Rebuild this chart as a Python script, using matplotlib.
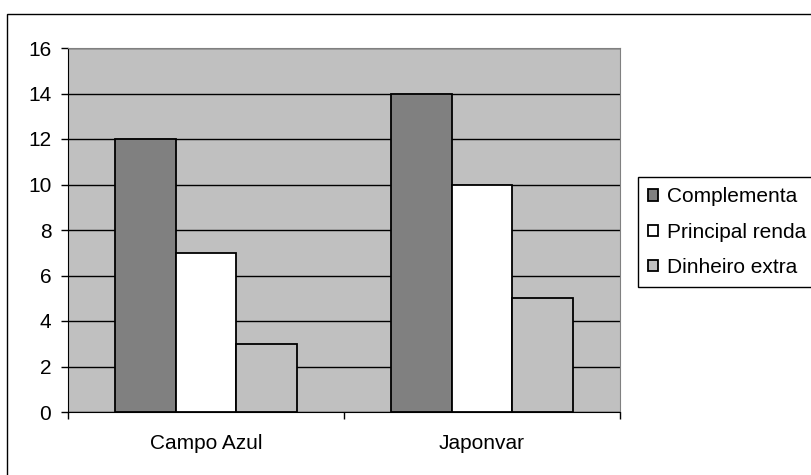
import matplotlib.pyplot as plt
import matplotlib.patches as mpatches
import numpy as np

plt.rcParams['font.family'] = ['Liberation Sans', 'DejaVu Sans']

#%% data
#-------------------------------------------------
categories = ['Campo Azul', 'Japonvar']
series = ['Complementa', 'Principal renda', 'Dinheiro extra']
complementa = [12, 14]
principal = [7, 10]
dinheiro = [3, 5]
values = [complementa, principal, dinheiro]
colors = ['#808080', '#FFFFFF', '#C0C0C0']
yticks = [0, 2, 4, 6, 8, 10, 12, 14, 16]

#%% figure
#-------------------------------------------------
W, H = 811, 475
fs = 15
fig = plt.figure(figsize=(W/100, H/100), dpi=100, facecolor='w')
ax = fig.add_axes([68/W, (H-412)/H, (620-68)/W, (412-48)/H])
ax.set_facecolor('#C0C0C0')

x = np.arange(len(categories))
bw = 0.221
for i, (vals, c) in enumerate(zip(values, colors)):
    ax.bar(x + (i-1)*bw, vals, bw, color=c, edgecolor='black', lw=1.3,
           label=series[i], zorder=3)

ax.set_xlim(-0.5, 1.5)
ax.set_ylim(0, 16)
ax.set_yticks(yticks)
ax.yaxis.grid(True, color='black', lw=1, zorder=1)
ax.set_axisbelow(True)

# category ticks between groups, labels at group centers
ax.set_xticks([-0.5, 0.5, 1.5])
ax.set_xticklabels([])
ax.set_xticks(x, minor=True)
ax.set_xticklabels(categories, minor=True)
ax.tick_params(axis='x', which='minor', length=0, pad=16, labelsize=fs)
ax.tick_params(axis='x', which='major', length=5, width=1, direction='out')
ax.tick_params(axis='y', length=5, width=1, direction='out', labelsize=fs, pad=7)

for s in ['top', 'right']:
    ax.spines[s].set_color('#808080')
ax.spines['left'].set_color('black')
ax.spines['bottom'].set_color('black')

#%% legend
#-------------------------------------------------
fig.legend(loc='upper left', bbox_to_anchor=(638/W, (H-177)/H), fontsize=fs,
           handlelength=0.45, handleheight=0.45, handletextpad=0.45,
           labelspacing=0.78, borderpad=0.5, borderaxespad=0,
           fancybox=False, edgecolor='black', framealpha=1)

# outer chart border
fig.add_artist(mpatches.Rectangle((7/W, -0.1), 1.2, (H-14)/H + 0.1,
                                  transform=fig.transFigure, fill=False,
                                  ec='black', lw=1))

fig.savefig('out.png', dpi=100)
